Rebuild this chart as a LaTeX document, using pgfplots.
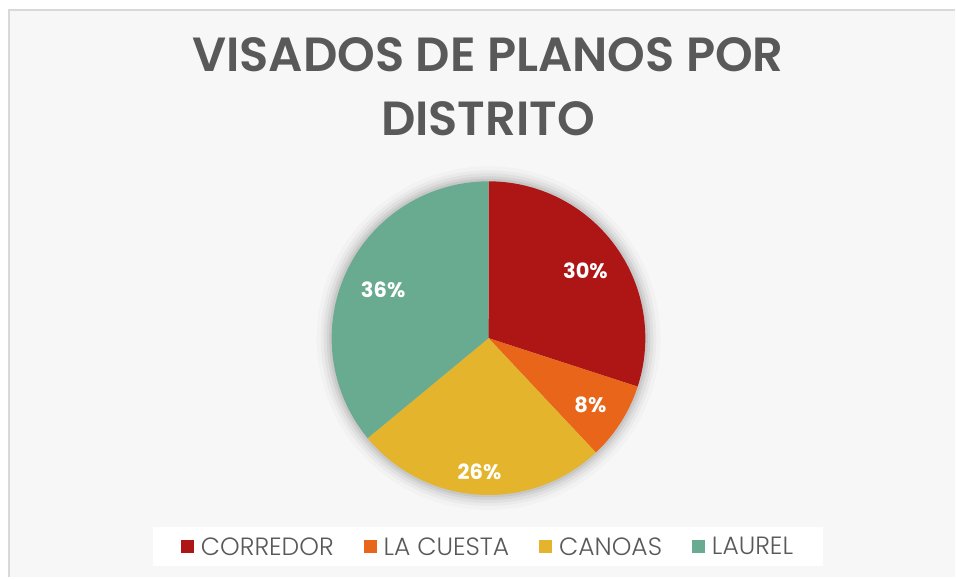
\documentclass[border=0pt]{standalone}
\usepackage{pgfplots}
\pgfplotsset{compat=1.18}
\usepackage{fontspec}
\setmainfont{Poppins}[BoldFont=* SemiBold]
\newfontfamily\legfont{Poppins}[UprightFont=* Light]
\newfontfamily\labfont{Poppins}[UprightFont=* Bold]
\definecolor{cA}{HTML}{AE1515}
\definecolor{cB}{HTML}{E8651A}
\definecolor{cC}{HTML}{E4B52C}
\definecolor{cD}{HTML}{69AB90}
\definecolor{txt}{HTML}{595959}
% values (percent)
\def\vA{30}\def\vB{8}\def\vC{26}\def\vD{36}
\def\cx{489}\def\cy{239.5}\def\rr{157}
\begin{document}
\begin{tikzpicture}
\pgfmathsetmacro\aA{90}
\pgfmathsetmacro\aB{90-3.6*\vA}
\pgfmathsetmacro\aC{\aB-3.6*\vB}
\pgfmathsetmacro\aD{\aC-3.6*\vC}
\pgfmathsetmacro\aE{\aD-3.6*\vD}
\begin{axis}[
  x=1pt, y=1pt, xmin=0, xmax=956, ymin=0, ymax=578,
  hide axis, clip=false, anchor=origin, at={(0,0)},
  legend columns=4,
  legend style={at={(axis cs:488.5,30.5)}, anchor=center, draw=none, fill=white,
    font=\legfont\fontsize{25}{29}\selectfont, text=txt,
    inner xsep=28pt, inner ysep=8pt,
    /tikz/every even column/.append style={column sep=28pt},
    /tikz/every odd column/.append style={column sep=5pt}},
  legend image code/.code={\fill[#1,draw=none] (0pt,-6.5pt) rectangle (13pt,6.5pt);},
]
% background and frame
\fill[white] (axis cs:0,0) rectangle (axis cs:956,578);
\fill[black!3] (axis cs:9,0) rectangle (axis cs:956,568);
\draw[black!15, line width=2pt] (axis cs:9,0) -- (axis cs:9,568) -- (axis cs:956,568);
% soft shadow
\fill[black, opacity=0.02] (axis cs:489,239.5) circle[radius=172];
\fill[black, opacity=0.03] (axis cs:489,239.5) circle[radius=168];
\fill[black, opacity=0.04] (axis cs:489,239.5) circle[radius=165];
\fill[black, opacity=0.05] (axis cs:489,239.5) circle[radius=162];
\fill[black, opacity=0.06] (axis cs:489,239.5) circle[radius=159.5];
\addplot[fill=cA, draw=none, domain=\aB:\aA, samples=80, variable=\t]
  ({\cx+\rr*cos(t)},{\cy+\rr*sin(t)}) -- (axis cs:489,239.5) -- cycle;
\addplot[fill=cB, draw=none, domain=\aC:\aB, samples=40, variable=\t]
  ({\cx+\rr*cos(t)},{\cy+\rr*sin(t)}) -- (axis cs:489,239.5) -- cycle;
\addplot[fill=cC, draw=none, domain=\aD:\aC, samples=80, variable=\t]
  ({\cx+\rr*cos(t)},{\cy+\rr*sin(t)}) -- (axis cs:489,239.5) -- cycle;
\addplot[fill=cD, draw=none, domain=\aE:\aD, samples=80, variable=\t]
  ({\cx+\rr*cos(t)},{\cy+\rr*sin(t)}) -- (axis cs:489,239.5) -- cycle;
\legend{CORREDOR, LA CUESTA, CANOAS, LAUREL}
% data labels
\node[text=white, font=\labfont\fontsize{21}{24}\selectfont] at (axis cs:586,306.5) {30\%};
\node[text=white, font=\labfont\fontsize{21}{24}\selectfont] at (axis cs:591,172.5) {8\%};
\node[text=white, font=\labfont\fontsize{21}{24}\selectfont] at (axis cs:480,105.5) {26\%};
\node[text=white, font=\labfont\fontsize{21}{24}\selectfont] at (axis cs:383.5,288) {36\%};
% title
\node[text=txt, font=\bfseries\fontsize{48}{64}\selectfont, align=center, anchor=north]
  at (axis cs:488.5,544) {VISADOS DE PLANOS POR\\DISTRITO};
\end{axis}
\end{tikzpicture}
\end{document}
